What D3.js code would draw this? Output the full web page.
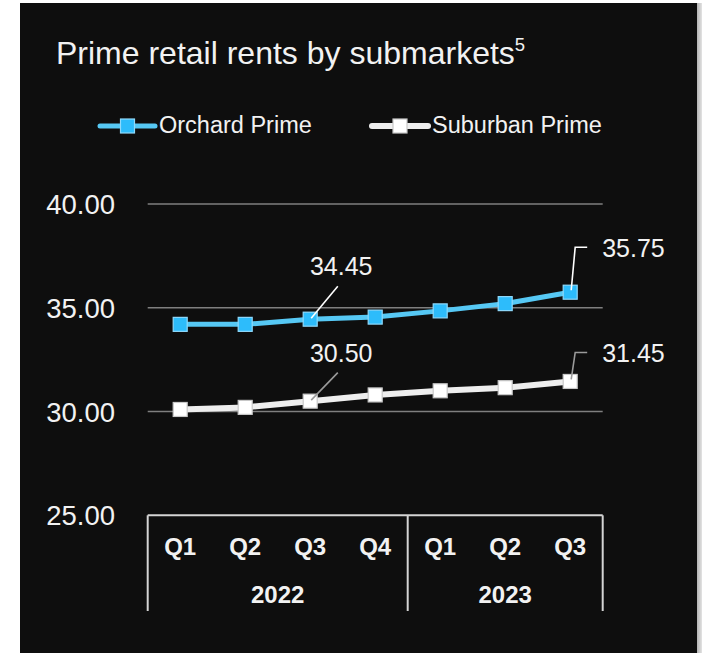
<!DOCTYPE html>
<html>
<head>
<meta charset="utf-8">
<script src="https://cdn.jsdelivr.net/npm/d3@7"></script>
<style>
  html, body { margin: 0; padding: 0; background: #ffffff; }
  svg { display: block; }
  text { font-family: "Liberation Sans", Arial, sans-serif; }
</style>
</head>
<body>
<svg id="chart" width="702" height="653"></svg>
<script>
// Quarterly prime retail rents
const quarters = ["Q1", "Q2", "Q3", "Q4", "Q1", "Q2", "Q3"];
const years = ["2022", "2022", "2022", "2022", "2023", "2023", "2023"];
const orchardPrime = [34.20, 34.20, 34.45, 34.55, 34.85, 35.20, 35.75];
const suburbanPrime = [30.10, 30.20, 30.50, 30.80, 31.00, 31.15, 31.45];
const yTicks = [25, 30, 35, 40];
const seriesNames = ["Orchard Prime", "Suburban Prime"];
const labelledPoints = [2, 6];

const W = 702, H = 653;
const svg = d3.select("#chart");

// shadow strip on the right side of the panel
const defs = svg.append("defs");
const grad = defs.append("linearGradient").attr("id", "edgeShade")
  .attr("x1", "0%").attr("x2", "100%").attr("y1", "0%").attr("y2", "0%");
grad.append("stop").attr("offset", "0%").attr("stop-color", "#a9a9a9");
grad.append("stop").attr("offset", "100%").attr("stop-color", "#e4e4e4");
svg.append("rect").attr("x", 696).attr("y", 3).attr("width", 6).attr("height", H - 3)
  .attr("fill", "url(#edgeShade)");

// dark panel
svg.append("rect").attr("x", 20).attr("y", 3).attr("width", 677).attr("height", H - 3)
  .attr("fill", "#0e0e0e");

// title
const title = svg.append("text").attr("x", 56).attr("y", 63.5)
  .attr("fill", "#f2f2f2").attr("font-size", 32);
title.append("tspan").text("Prime retail rents by submarkets");
title.append("tspan").attr("font-size", 18.5).attr("dy", -12.5).text("5");

// scales
const keys = quarters.map((q, i) => years[i] + " " + q);
const x = d3.scaleBand().domain(keys).range([147.7, 602.7]);
const y = d3.scaleLinear().domain([25, 40]).range([515.3, 204]);
const cx = i => x(keys[i]) + x.bandwidth() / 2;

const colors = {
  orchard: { line: "#56c8f4", fill: "#2dbcfb", stroke: "#8fd9fb" },
  suburban: { line: "#eeeeee", fill: "#ffffff", stroke: "#c8c8c8" }
};

// legend
const legend = [
  { name: seriesNames[0], c: colors.orchard, x0: 100, x1: 155, w: 5 },
  { name: seriesNames[1], c: colors.suburban, x0: 372, x1: 428, w: 6 }
];
legend.forEach(l => {
  const g = svg.append("g");
  g.append("line").attr("x1", l.x0).attr("x2", l.x1).attr("y1", 126).attr("y2", 126)
    .attr("stroke", l.c.line).attr("stroke-width", l.w).attr("stroke-linecap", "round");
  const m = (l.x0 + l.x1) / 2;
  g.append("rect").attr("x", m - 7).attr("y", 119).attr("width", 14).attr("height", 14)
    .attr("fill", l.c.fill).attr("stroke", l.c.stroke).attr("stroke-width", 1.2);
  g.append("text").attr("x", l.x1 + 4).attr("y", 133.3).attr("font-size", 23.5)
    .attr("fill", "#f2f2f2").text(l.name);
});

// gridlines
svg.append("g").selectAll("line").data(yTicks.filter(d => d > 25)).join("line")
  .attr("x1", 147.7).attr("x2", 602.7)
  .attr("y1", d => y(d)).attr("y2", d => y(d))
  .attr("stroke", "#7f7f7f").attr("stroke-width", 1.5);

// y axis labels
const yAxis = svg.append("g").attr("transform", "translate(118,0)")
  .call(d3.axisLeft(y).tickValues(yTicks).tickFormat(d3.format(".2f")).tickSize(0).tickPadding(3));
yAxis.select(".domain").remove();
yAxis.selectAll("text").attr("font-size", 27.5).attr("fill", "#f2f2f2")
  .attr("font-family", "Liberation Sans, Arial, sans-serif").attr("dy", 9.5);

// category axis (quarters + years)
const axisG = svg.append("g").attr("stroke", "#d4d4d4").attr("stroke-width", 2);
axisG.append("line").attr("x1", 147.7).attr("x2", 602.7).attr("y1", y(25)).attr("y2", y(25));
const yearBounds = [];
years.forEach((yr, i) => {
  if (i === 0 || years[i - 1] !== yr) yearBounds.push({ year: yr, start: x(keys[i]), end: x(keys[i]) + x.bandwidth() });
  else yearBounds[yearBounds.length - 1].end = x(keys[i]) + x.bandwidth();
});
const dividers = [yearBounds[0].start].concat(yearBounds.map(b => b.end));
dividers.forEach(dx => {
  axisG.append("line").attr("x1", dx).attr("x2", dx).attr("y1", y(25)).attr("y2", 611);
});

svg.append("g").selectAll("text").data(quarters).join("text")
  .attr("x", (d, i) => cx(i)).attr("y", 555).attr("text-anchor", "middle")
  .attr("font-size", 24).attr("font-weight", "bold").attr("fill", "#f2f2f2").text(d => d);

svg.append("g").selectAll("text").data(yearBounds).join("text")
  .attr("x", d => (d.start + d.end) / 2).attr("y", 603).attr("text-anchor", "middle")
  .attr("font-size", 24).attr("font-weight", "bold").attr("fill", "#f2f2f2").text(d => d.year);

// series lines and markers
const lineGen = d3.line().x((d, i) => cx(i)).y(d => y(d));
function drawSeries(values, c, width) {
  svg.append("path").datum(values).attr("d", lineGen).attr("fill", "none")
    .attr("stroke", c.line).attr("stroke-width", width).attr("stroke-linejoin", "round");
  svg.append("g").selectAll("rect").data(values).join("rect")
    .attr("x", (d, i) => cx(i) - 7).attr("y", d => y(d) - 7)
    .attr("width", 14).attr("height", 14)
    .attr("fill", c.fill).attr("stroke", c.stroke).attr("stroke-width", 1.2);
}
drawSeries(suburbanPrime, colors.suburban, 6);
drawSeries(orchardPrime, colors.orchard, 5);

// value callouts
const fmt = d3.format(".2f");
const callouts = [
  { values: orchardPrime, lead: "#ffffff" },
  { values: suburbanPrime, lead: "#9a9a9a" }
];
callouts.forEach((s, si) => {
  labelledPoints.forEach(i => {
    const px = cx(i), py = y(s.values[i]);
    const last = i === quarters.length - 1;
    if (last) {
      const top = si === 0 ? py - 45 : py - 29;
      svg.append("polyline")
        .attr("points", [[px + 1, py - 2], [px + 5, top], [px + 17, top]].map(p => p.join(",")).join(" "))
        .attr("fill", "none").attr("stroke", s.lead).attr("stroke-width", 1.6);
      svg.append("text").attr("x", px + 32).attr("y", top + 9.5).attr("font-size", 25)
        .attr("fill", "#f2f2f2").text(fmt(s.values[i]));
    } else {
      const ex = px + 27.6, ey = si === 0 ? py - 33 : py - 28.5;
      svg.append("line").attr("x1", px + 1).attr("y1", py - 1).attr("x2", ex).attr("y2", ey)
        .attr("stroke", s.lead).attr("stroke-width", 1.6);
      svg.append("text").attr("x", px + 31).attr("y", si === 0 ? ey - 11 : ey - 10.3)
        .attr("text-anchor", "middle").attr("font-size", 25)
        .attr("fill", "#f2f2f2").text(fmt(s.values[i]));
    }
  });
});
</script>
</body>
</html>
